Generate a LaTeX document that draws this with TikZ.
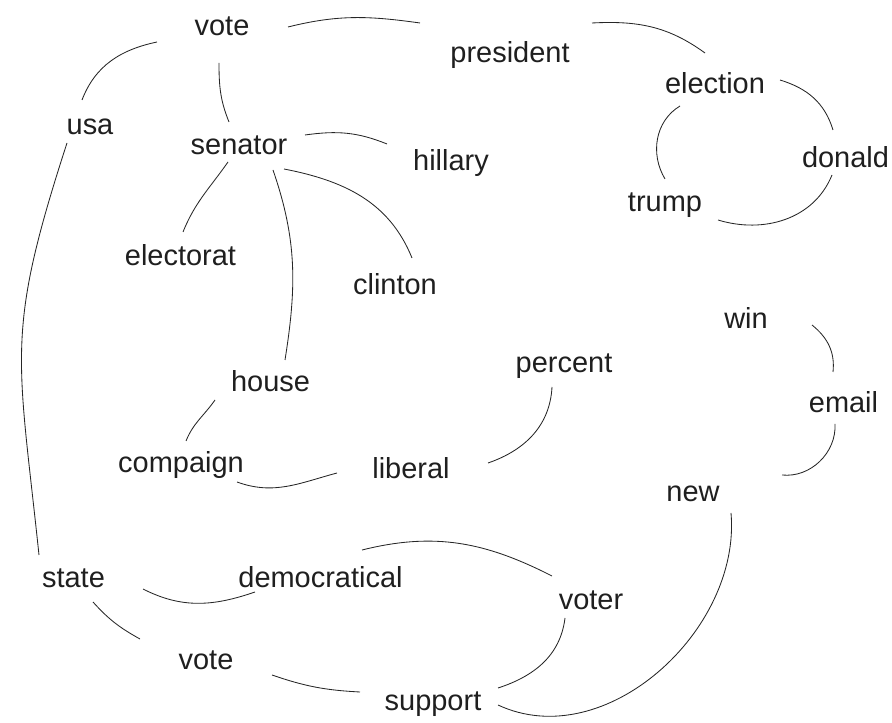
\documentclass[tikz,border=0pt]{standalone}
\usepackage{fontspec}
\setmainfont{Liberation Sans}

\begin{document}
\begin{tikzpicture}[x=0.025cm,y=0.025cm,
  mot/.style={inner sep=0pt,text height=18pt,text depth=3pt,
    font=\fontsize{20.6}{24}\selectfont,text=black!88},
  lien/.style={line width=0.6pt,black!85}]
  \useasboundingbox (0,0) rectangle (892,722);

  % mots
  \node[mot] (vote)    at (222,697)   {vote};
  \node[mot] (pres)    at (510,670)   {president};
  \node[mot] (elec)    at (715,639.5) {election};
  \node[mot] (donald)  at (845.5,565.5) {donald};
  \node[mot] (trump)   at (665,521.5) {trump};
  \node[mot] (usa)     at (90,598.5)  {usa};
  \node[mot] (senator) at (239,578.5) {senator};
  \node[mot] (hillary) at (451,562.5) {hillary};
  \node[mot] (electo)  at (180.5,467) {electorat};
  \node[mot] (clinton) at (395,438.5) {clinton};
  \node[mot] (win)     at (746,404)   {win};
  \node[mot] (percent) at (564,360.5) {percent};
  \node[mot] (email)   at (843.5,320.5) {email};
  \node[mot] (house)   at (270.5,341.5) {house};
  \node[mot] (compa)   at (181,260)   {compaign};
  \node[mot] (liberal) at (411,254)   {liberal};
  \node[mot] (new)     at (693,231)   {new};
  \node[mot] (state)   at (73.5,145)  {state};
  \node[mot] (democ)   at (320.5,145) {democratical};
  \node[mot] (voter)   at (591,123.5) {voter};
  \node[mot] (voteb)   at (206,63.5)  {vote};
  \node[mot] (support) at (433,22)    {support};

  % liens du haut
  \draw[lien] ([shift={(-65,-17)}]vote.center) to[out=192,in=69] ([shift={(-8,23.5)}]usa.center);
  \draw[lien] ([shift={(-3,-38)}]vote.center) to[out=270,in=112] ([shift={(-10,21.5)}]senator.center);
  \draw[lien] ([shift={(66,-2)}]vote.center) to[out=14,in=172] ([shift={(-90,29)}]pres.center);
  \draw[lien] ([shift={(82,29)}]pres.center) to[out=3,in=144] ([shift={(-10,29.5)}]elec.center);
  \draw[lien] ([shift={(65,2.5)}]elec.center) to[out=343,in=107] ([shift={(-12.5,26.5)}]donald.center);
  \draw[lien] ([shift={(-35,-23.5)}]elec.center) to[out=211,in=121] ([shift={(0,21.5)}]trump.center);
  \draw[lien] ([shift={(53,-19.5)}]trump.center) to[out=343,in=248] ([shift={(-13.5,-18.5)}]donald.center);
  \draw[lien] ([shift={(-23,-19.5)}]usa.center) to[out=252,in=96,looseness=1.25] ([shift={(-34.5,22)}]state.center);

  % autour de senator
  \draw[lien] ([shift={(66,8.5)}]senator.center) to[out=8,in=158] ([shift={(-64,15.5)}]hillary.center);
  \draw[lien] ([shift={(-11,-18.5)}]senator.center) to[out=235,in=68] ([shift={(2.5,23)}]electo.center);
  \draw[lien] ([shift={(34,-26.5)}]senator.center) to[out=289,in=81] ([shift={(14.5,20.5)}]house.center);
  \draw[lien] ([shift={(45,-25.5)}]senator.center) to[out=349,in=112] ([shift={(17,25.5)}]clinton.center);

  % milieu
  \draw[lien] ([shift={(-55.5,-19.5)}]house.center) to[out=235,in=68] ([shift={(5,21)}]compa.center);
  \draw[lien] ([shift={(56,-20)}]compa.center) to[out=340,in=195] ([shift={(-74,-5)}]liberal.center);
  \draw[lien] ([shift={(77,5)}]liberal.center) to[out=19,in=267] ([shift={(-12,-25.5)}]percent.center);
  \draw[lien] ([shift={(66,-7)}]win.center) to[out=321,in=84] ([shift={(-10.5,29.5)}]email.center);
  \draw[lien] ([shift={(-8.5,-22.5)}]email.center) to[out=273,in=354] ([shift={(89,16)}]new.center);

  % liens du bas
  \draw[lien] ([shift={(38,-22)}]new.center) to[out=275,in=335] ([shift={(65,-5)}]support.center);
  \draw[lien] ([shift={(-26,-19.5)}]voter.center) to[out=263,in=18] ([shift={(65,12)}]support.center);
  \draw[lien] ([shift={(41.5,27)}]democ.center) to[out=14,in=153] ([shift={(-39,22.5)}]voter.center);
  \draw[lien] ([shift={(69.5,-12)}]state.center) to[out=333,in=199] ([shift={(-65.5,-15)}]democ.center);
  \draw[lien] ([shift={(19.5,-25)}]state.center) to[out=312,in=151] ([shift={(-66,19.5)}]voteb.center);
  \draw[lien] ([shift={(66,-16.5)}]voteb.center) to[out=341,in=177] ([shift={(-73,8)}]support.center);
\end{tikzpicture}
\end{document}
